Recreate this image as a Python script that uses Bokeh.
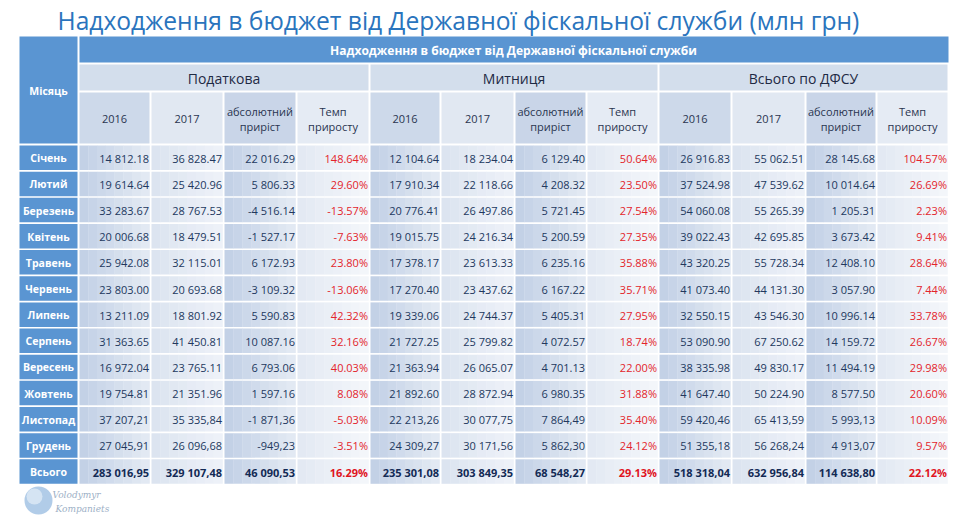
from bokeh.plotting import figure
from bokeh.models import Range1d
from bokeh.core.properties import value
from bokeh.embed import file_html
from bokeh.resources import INLINE

# ---------------- data ----------------
title_text = "Надходження в бюджет від Державної фіскальної служби (млн грн)"
top_header = "Надходження в бюджет від Державної фіскальної служби"
month_header = "Місяць"
groups = ["Податкова", "Митниця", "Всього по ДФСУ"]
sub_headers = [["2016"], ["2017"], ["абсолютний", "приріст"], ["Темп", "приросту"]]

months = ["Січень", "Лютий", "Березень", "Квітень", "Травень", "Червень", "Липень",
          "Серпень", "Вересень", "Жовтень", "Листопад", "Грудень", "Всього"]

tax_2016 = [14812.18, 19614.64, 33283.67, 20006.68, 25942.08, 23803.00, 13211.09,
            31363.65, 16972.04, 19754.81, 37207.21, 27045.91, 283016.95]
tax_2017 = [36828.47, 25420.96, 28767.53, 18479.51, 32115.01, 20693.68, 18801.92,
            41450.81, 23765.11, 21351.96, 35335.84, 26096.68, 329107.48]
tax_abs = [22016.29, 5806.33, -4516.14, -1527.17, 6172.93, -3109.32, 5590.83,
           10087.16, 6793.06, 1597.16, -1871.36, -949.23, 46090.53]
tax_pct = [148.64, 29.60, -13.57, -7.63, 23.80, -13.06, 42.32,
           32.16, 40.03, 8.08, -5.03, -3.51, 16.29]

cust_2016 = [12104.64, 17910.34, 20776.41, 19015.75, 17378.17, 17270.40, 19339.06,
             21727.25, 21363.94, 21892.60, 22213.26, 24309.27, 235301.08]
cust_2017 = [18234.04, 22118.66, 26497.86, 24216.34, 23613.33, 23437.62, 24744.37,
             25799.82, 26065.07, 28872.94, 30077.75, 30171.56, 303849.35]
cust_abs = [6129.40, 4208.32, 5721.45, 5200.59, 6235.16, 6167.22, 5405.31,
            4072.57, 4701.13, 6980.35, 7864.49, 5862.30, 68548.27]
cust_pct = [50.64, 23.50, 27.54, 27.35, 35.88, 35.71, 27.95,
            18.74, 22.00, 31.88, 35.40, 24.12, 29.13]

total_2016 = [26916.83, 37524.98, 54060.08, 39022.43, 43320.25, 41073.40, 32550.15,
              53090.90, 38335.98, 41647.40, 59420.46, 51355.18, 518318.04]
total_2017 = [55062.51, 47539.62, 55265.39, 42695.85, 55728.34, 44131.30, 43546.30,
              67250.62, 49830.17, 50224.90, 65413.59, 56268.24, 632956.84]
total_abs = [28145.68, 10014.64, 1205.31, 3673.42, 12408.10, 3057.90, 10996.14,
             14159.72, 11494.19, 8577.50, 5993.13, 4913.07, 114638.80]
total_pct = [104.57, 26.69, 2.23, 9.41, 28.64, 7.44, 33.78,
             26.67, 29.98, 20.60, 10.09, 9.57, 22.12]

decimal_mark = ["."] * 10 + [","] * 3

logo_lines = ["Volodymyr", "Kompaniets"]

# ---------------- helpers ----------------
def fmt_num(v, dec):
    s = f"{abs(v):,.2f}".replace(",", " ").replace(".", dec)
    return ("-" if v < 0 else "") + s

def fmt_pct(v):
    return f"{v:.2f}%"

def mix(c1, c2, t):
    a = [int(c1[i:i + 2], 16) for i in (1, 3, 5)]
    b = [int(c2[i:i + 2], 16) for i in (1, 3, 5)]
    return "#" + "".join(f"{int(round(a[k] + (b[k] - a[k]) * t)):02x}" for k in range(3))

FONT = value("Open Sans")
BLUE = "#5A95D2"
NUM_COLOR = "#22385E"
RED = "#E3242B"

# ---------------- figure ----------------
W, H = 952, 515
p = figure(width=W, height=H, output_backend="svg", toolbar_location=None,
           x_range=Range1d(0, W), y_range=Range1d(H, 0),
           min_border=0, outline_line_color=None, background_fill_color="white",
           border_fill_color="white")
p.axis.visible = False
p.grid.visible = False

# layout
month_l, month_r = 19, 77
col_edges = [78, 150, 223, 296, 369, 440, 514, 586, 658, 731, 805, 876, 948]
hdr1 = (36, 62)
hdr2 = (64, 90)
hdr3 = (92, 143)
row_top0, row_pitch, row_h = 145, 26.15, 24.5
g = 1.0  # half gap

# ----- header boxes -----
p.quad(left=[month_l], right=[month_r], top=[hdr1[0]], bottom=[hdr3[1]],
       fill_color=BLUE, line_color=None)
p.quad(left=[col_edges[0] + g], right=[col_edges[-1]], top=[hdr1[0]], bottom=[hdr1[1]],
       fill_color=BLUE, line_color=None)
for gi in range(3):
    l = col_edges[gi * 4] + g
    r = col_edges[gi * 4 + 4] - g
    p.quad(left=[l], right=[r], top=[hdr2[0]], bottom=[hdr2[1]],
           fill_color="#D3DEEC", line_color=None)

hdr3_cols = ["#CDD9EA", "#E1E8F2", "#C9D5E8", "#E5EBF4"]
for ci in range(12):
    l = col_edges[ci] + g
    r = col_edges[ci + 1] - g
    p.quad(left=[l], right=[r], top=[hdr3[0]], bottom=[hdr3[1]],
           fill_color=hdr3_cols[ci % 4], line_color=None)

# ----- data cells (gradient strips) -----
grad = [("#C3D1E6", "#E2E9F3"), ("#DCE4F0", "#EDF1F8"),
        ("#C3D1E6", "#E2E9F3"), ("#E3E9F3", "#F3F6FA")]
nstrip = 8
L, R, T, B, C = [], [], [], [], []
for ri in range(len(months)):
    top = row_top0 + ri * row_pitch
    bot = top + row_h
    for ci in range(12):
        l = col_edges[ci] + g
        r = col_edges[ci + 1] - g
        c1, c2 = grad[ci % 4]
        w = (r - l) / nstrip
        for k in range(nstrip):
            L.append(l + k * w)
            R.append(l + (k + 1) * w + 0.3)
            T.append(top)
            B.append(bot)
            C.append(mix(c1, c2, k / (nstrip - 1)))
p.quad(left=L, right=R, top=T, bottom=B, fill_color=C, line_color=None)

# month cells
mt = [row_top0 + i * row_pitch for i in range(len(months))]
p.quad(left=[month_l] * len(months), right=[month_r] * len(months), top=mt,
       bottom=[t + row_h for t in mt], fill_color=BLUE, line_color=None)

# ----- texts -----
p.text(x=[57], y=[20], text=[title_text], text_font=FONT, text_font_size="24.6px",
       text_color="#2A74BD", text_baseline="middle", text_align="left")

p.text(x=[(col_edges[0] + col_edges[-1]) / 2], y=[(hdr1[0] + hdr1[1]) / 2 + 1],
       text=[top_header], text_font=FONT, text_font_size="12px", text_font_style="bold",
       text_color="white", text_align="center", text_baseline="middle")
p.text(x=[(month_l + month_r) / 2], y=[(hdr1[0] + hdr3[1]) / 2 + 1], text=[month_header],
       text_font=FONT, text_font_size="10.5px", text_font_style="bold",
       text_color="white", text_align="center", text_baseline="middle")

gx = [(col_edges[gi * 4] + col_edges[gi * 4 + 4]) / 2 for gi in range(3)]
p.text(x=gx, y=[(hdr2[0] + hdr2[1]) / 2 + 1] * 3, text=groups, text_font=FONT,
       text_font_size="14px", text_color="#1E2A44", text_align="center",
       text_baseline="middle")

sx, sy, st = [], [], []
for ci in range(12):
    lines = sub_headers[ci % 4]
    cx = (col_edges[ci] + col_edges[ci + 1]) / 2
    cy = (hdr3[0] + hdr3[1]) / 2 + 1
    n = len(lines)
    for k, line in enumerate(lines):
        sx.append(cx)
        sy.append(cy + (k - (n - 1) / 2) * 15)
        st.append(line)
p.text(x=sx, y=sy, text=st, text_font=FONT, text_font_size="11px", text_color="#2A3550",
       text_align="center", text_baseline="middle")

mc = [t + row_h / 2 + 0.5 for t in mt]
p.text(x=[(month_l + month_r) / 2] * len(months), y=mc, text=months, text_font=FONT,
       text_font_size="10.5px", text_font_style="bold", text_color="white",
       text_align="center", text_baseline="middle")

series = [tax_2016, tax_2017, tax_abs, tax_pct,
          cust_2016, cust_2017, cust_abs, cust_pct,
          total_2016, total_2017, total_abs, total_pct]
last = len(months) - 1
for ci, ser in enumerate(series):
    xr = col_edges[ci + 1] - 1.5
    is_pct = ci % 4 == 3
    txt = [fmt_pct(v) if is_pct else fmt_num(v, decimal_mark[i]) for i, v in enumerate(ser)]
    color = RED if is_pct else NUM_COLOR
    p.text(x=[xr] * last, y=mc[:last], text=txt[:last], text_font=FONT,
           text_font_size="11px", text_color=color, text_align="right",
           text_baseline="middle")
    p.text(x=[xr], y=[mc[last]], text=[txt[last]], text_font=FONT,
           text_font_size="11px", text_font_style="bold",
           text_color="#E0141E" if is_pct else "#132A55", text_align="right",
           text_baseline="middle")

# ----- logo -----
p.circle(x=[38], y=[500], radius=14, fill_color="#A8C6E6", line_color=None, fill_alpha=0.9)
p.circle(x=[34], y=[496], radius=8, fill_color="#E4EEF8", line_color=None, fill_alpha=0.7)
p.text(x=[52, 55], y=[494, 508], text=logo_lines, text_font=value("DejaVu Serif"),
       text_font_size="9px", text_font_style="italic", text_color="#9DB0C6",
       text_align="left", text_baseline="middle")

open("out.html", "w").write(file_html(p, INLINE))
